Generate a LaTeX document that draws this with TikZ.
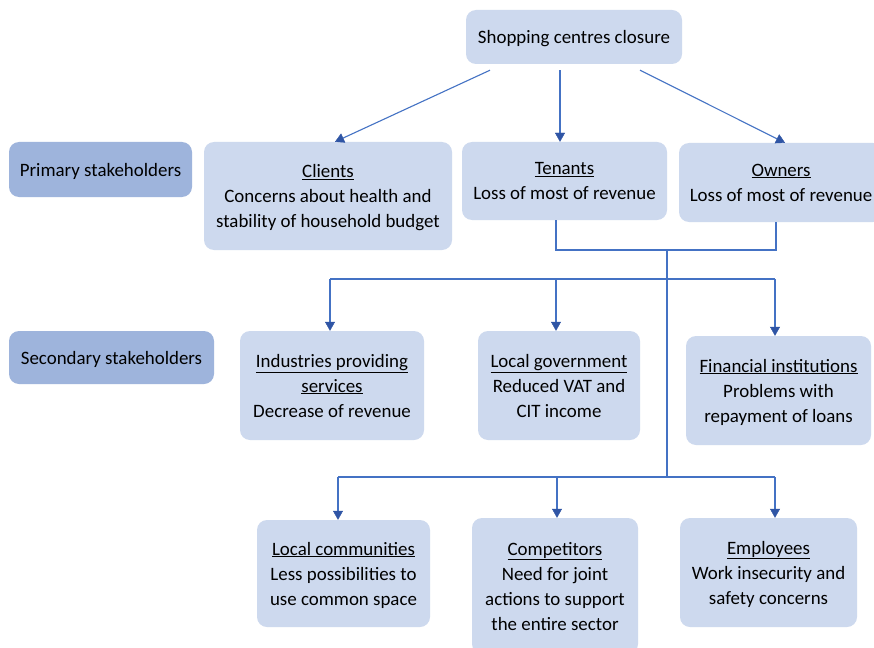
\documentclass[tikz,border=0pt]{standalone}
\usepackage{fontspec}
\setmainfont{Carlito}
\usetikzlibrary{arrows.meta}
\definecolor{boxfill}{RGB}{205,217,238}
\definecolor{darkfill}{RGB}{158,180,220}
\definecolor{linecol}{RGB}{68,114,196}
\definecolor{tipcol}{RGB}{47,85,165}
\tikzset{
  box/.style={rectangle, rounded corners=10pt, fill=boxfill, draw=none, inner sep=0pt, align=center,
    text depth=0pt, font=\fontsize{18.9pt}{25pt}\selectfont},
  darkbox/.style={box, fill=darkfill},
  conn/.style={draw=linecol, line width=1.1pt},
  arr/.style={conn, -{Triangle[width=10pt,length=9pt,color=tipcol,fill=tipcol,line width=0.4pt]}},
}
\begin{document}
\begin{tikzpicture}[x=1pt,y=-1pt]
\useasboundingbox (0,0) rectangle (874,647);
\clip (0,0) rectangle (874,647);
\fill[white] (0,0) rectangle (874,647);
% nodes
\node[box, minimum width=216pt, minimum height=54pt] (top) at (574,37) {Shopping centres closure};
\node[darkbox, minimum width=183pt, minimum height=55pt] (prim) at (100.5,169.5) {Primary stakeholders};
\node[box, minimum width=248pt, minimum height=108pt] (clients) at (328,196) {\underline{Clients}\\Concerns about health and\\stability of household budget};
\node[box, minimum width=205pt, minimum height=78pt] (tenants) at (564.5,181) {\underline{Tenants}\\Loss of most of revenue};
\node[box, minimum width=204pt, minimum height=79pt] (owners) at (781,182.5) {\underline{Owners}\\Loss of most of revenue};
\node[darkbox, minimum width=205pt, minimum height=53pt] (sec) at (111.5,357.5) {Secondary stakeholders};
\node[box, minimum width=184pt, minimum height=109pt] (ind) at (332,385.5) {\underline{Industries providing}\\\underline{services}\\Decrease of revenue};
\node[box, minimum width=162pt, minimum height=109pt] (gov) at (559,385.5) {\underline{Local government}\\Reduced VAT and\\CIT income};
\node[box, minimum width=185pt, minimum height=109pt] (fin) at (778.5,390.5) {\underline{Financial institutions}\\Problems with\\repayment of loans};
\node[box, minimum width=173pt, minimum height=107pt] (lc) at (343.5,573.5) {\underline{Local communities}\\Less possibilities to\\use common space};
\node[box, minimum width=166pt, minimum height=136pt] (comp) at (555,586) {\underline{Competitors}\\Need for joint\\actions to support\\the entire sector};
\node[box, minimum width=177pt, minimum height=109pt] (emp) at (768.5,572.5) {\underline{Employees}\\Work insecurity and\\safety concerns};
% junction coordinates
\coordinate (j1) at (667,250);
\coordinate (j2) at (667,279);
\coordinate (j3) at (667,477);
% top arrows
\draw[arr] ([xshift=-84pt,yshift=-6pt]top.south) -- ([xshift=7pt]clients.north);
\draw[arr] ([xshift=-14pt,yshift=-6pt]top.south) -- ([xshift=-4.5pt]tenants.north);
\draw[arr] ([xshift=66pt,yshift=-6pt]top.south) -- ([xshift=4pt]owners.north);
% bracket
\draw[conn] ([xshift=-8.5pt]tenants.south) |- (j1) -| ([xshift=-5pt]owners.south);
\draw[conn] (j1) -- (j3);
% secondary row
\draw[conn] ([xshift=-2pt]ind.north |- j2) -- ([xshift=-3.5pt]fin.north |- j2);
\draw[arr] ([xshift=-2pt]ind.north |- j2) -- ([xshift=-2pt]ind.north);
\draw[arr] ([xshift=-3pt]gov.north |- j2) -- ([xshift=-3pt]gov.north);
\draw[arr] ([xshift=-3.5pt]fin.north |- j2) -- ([xshift=-3.5pt]fin.north);
% bottom row
\draw[conn] ([xshift=-5.5pt]lc.north |- j3) -- ([xshift=6.5pt]emp.north |- j3);
\draw[arr] ([xshift=-5.5pt]lc.north |- j3) -- ([xshift=-5.5pt]lc.north);
\draw[arr] ([xshift=2pt]comp.north |- j3) -- ([xshift=2pt]comp.north);
\draw[arr] ([xshift=6.5pt]emp.north |- j3) -- ([xshift=6.5pt]emp.north);
\end{tikzpicture}
\end{document}
